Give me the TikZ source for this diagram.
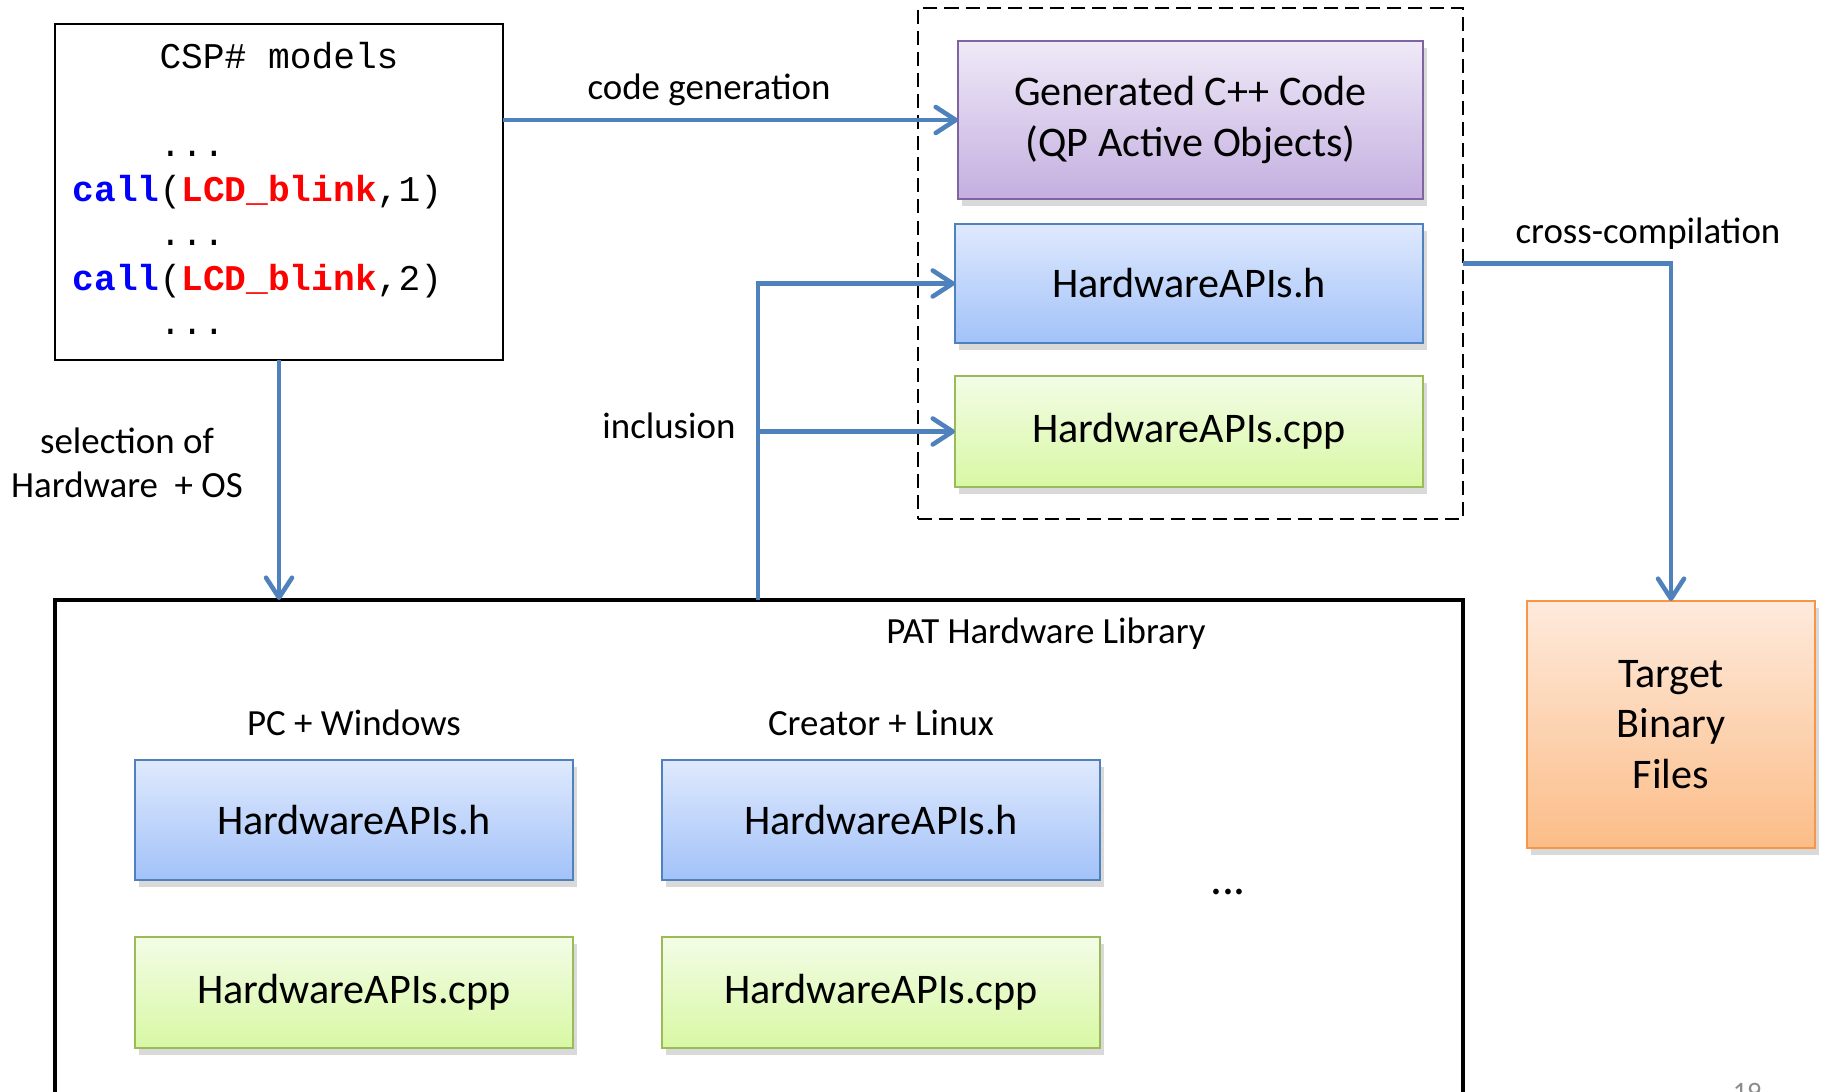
\documentclass[tikz,border=0pt]{standalone}
\usepackage{fontspec}
\setmainfont{Carlito}
\newfontfamily\codefont{Liberation Mono}
\usetikzlibrary{arrows.meta,positioning,shadows}
\definecolor{patBlue}{HTML}{4F81BD}
\definecolor{patPurple}{HTML}{8064A2}
\definecolor{patGreen}{HTML}{9BBB59}
\definecolor{patOrange}{HTML}{F79646}
\definecolor{hTop}{HTML}{DFE9FD}
\definecolor{hBot}{HTML}{A2C2F9}
\definecolor{cTop}{HTML}{F3FCE6}
\definecolor{cBot}{HTML}{D8F8A4}
\definecolor{gTop}{HTML}{EFE9F7}
\definecolor{gBot}{HTML}{C4AFE0}
\definecolor{tTop}{HTML}{FEEADC}
\definecolor{tBot}{HTML}{FBBD88}
\definecolor{kwBlue}{HTML}{0000FF}
\definecolor{fnRed}{HTML}{FF0000}
\newcommand{\kw}[1]{{\bfseries\color{kwBlue}#1}}
\newcommand{\fn}[1]{{\bfseries\color{fnRed}#1}}

\begin{document}
\begin{tikzpicture}[
        filebox/.style={line width=0.8pt, inner sep=0pt, outer sep=0pt, align=center, font=\fontsize{12}{14.4}\selectfont,
            drop shadow={shadow xshift=0.4mm, shadow yshift=-0.7mm, opacity=0.3}},
        hfile/.style={filebox, draw=patBlue, top color=hTop, bottom color=hBot, minimum width=4.38cm, minimum height=1.2cm},
        cppfile/.style={filebox, draw=patGreen, top color=cTop, bottom color=cBot, minimum width=4.38cm, minimum height=1.11cm},
        genfile/.style={filebox, draw=patPurple, top color=gTop, bottom color=gBot},
        binfile/.style={filebox, draw=patOrange, top color=tTop, bottom color=tBot},
        codeline/.style={anchor=base west, inner sep=0pt, font=\codefont\fontsize{10.3}{12}\selectfont},
        note/.style={align=center, font=\fontsize{10.5}{12.6}\selectfont},
        flow/.style={-{Straight Barb[length=2mm, width=2.6mm, round]}, draw=patBlue, line width=1.3pt},
        libframe/.style={draw=black, line width=1.2pt, inner sep=0pt, outer sep=0pt}
    ]
    \path[use as bounding box, clip] (0,0) rectangle (18.22,-10.92);

    % CSP# model with its calls
    \node[draw, line width=0.7pt, inner sep=0pt, outer sep=0pt, minimum width=4.48cm, minimum height=3.36cm] (csp) at (2.79,-1.92) {};
    \node[codeline, anchor=base] (csptitle) at (2.79,-0.683) {CSP\# models};
    \node[codeline] (dotsa) at (0.72,-1.57) {\phantom{call}...};
    \node[codeline] (calla) at (0.72,-2.015) {\kw{call}(\fn{LCD\_blink},1)};
    \node[codeline] (dotsb) at (0.72,-2.46) {\phantom{call}...};
    \node[codeline] (callb) at (0.72,-2.905) {\kw{call}(\fn{LCD\_blink},2)};
    \node[codeline] (dotsc) at (0.72,-3.35) {\phantom{call}...};

    % generated files
    \node[draw, dash pattern=on 4pt off 2pt, line width=0.7pt, inner sep=0pt, outer sep=0pt, minimum width=5.45cm, minimum height=5.11cm] (group) at (11.905,-2.635) {};
    \node[genfile, minimum width=4.65cm, minimum height=1.58cm] (gen) at (11.905,-1.20) {Generated C++ Code\\(QP Active Objects)};
    \node[hfile, minimum width=4.68cm, minimum height=1.19cm] (hdr) at (11.89,-2.835) {HardwareAPIs.h};
    \node[cppfile, minimum width=4.68cm] (cpp) at (11.89,-4.315) {HardwareAPIs.cpp};

    \node[binfile, minimum width=2.88cm, minimum height=2.47cm] (target) at (16.71,-7.245) {Target\\Binary\\Files};

    % hardware library
    \node[libframe, minimum width=14.08cm, minimum height=5.6cm] (pat) at (7.59,-8.80) {};
    \node[note] (patname) at (10.46,-6.34) {PAT Hardware Library};
    \node[hfile] (pchdr) at (3.54,-8.20) {HardwareAPIs.h};
    \node[cppfile, below=0.57cm of pchdr] (pccpp) {HardwareAPIs.cpp};
    \node[hfile, right=0.89cm of pchdr] (lxhdr) {HardwareAPIs.h};
    \node[cppfile, below=0.57cm of lxhdr] (lxcpp) {HardwareAPIs.cpp};
    \node[note] (pcname) at (3.54,-7.23) {PC + Windows};
    \node[note] (lxname) at (8.81,-7.23) {Creator + Linux};
    \node[note, font=\fontsize{13.5}{15}\selectfont] (more) at (12.28,-8.92) {...};

    % labels
    \node[note] (codegen) at (7.09,-0.90) {code generation};
    \node[note] (select) at (1.27,-4.63) {selection of\\Hardware~~+ OS};
    \node[note] (include) at (6.69,-4.26) {inclusion};
    \node[note] (cross) at (16.48,-2.34) {cross-compilation};
    \node[inner sep=0pt, anchor=north, text=black!45, font=\fontsize{8}{9}\selectfont] (pageno) at (17.47,-10.83) {19};

    \coordinate (incl) at (7.58,-6.00);

    \draw[flow] (csp.east |- gen.west) -- (gen.west);
    \draw[flow] (csp.south) -- (csp.south |- pat.north);
    \draw[flow] (incl) |- (hdr.west);
    \draw[flow] (incl |- cpp.west) -- (cpp.west);
    \draw[flow] (group.east) -| (target.north);
\end{tikzpicture}
\end{document}
